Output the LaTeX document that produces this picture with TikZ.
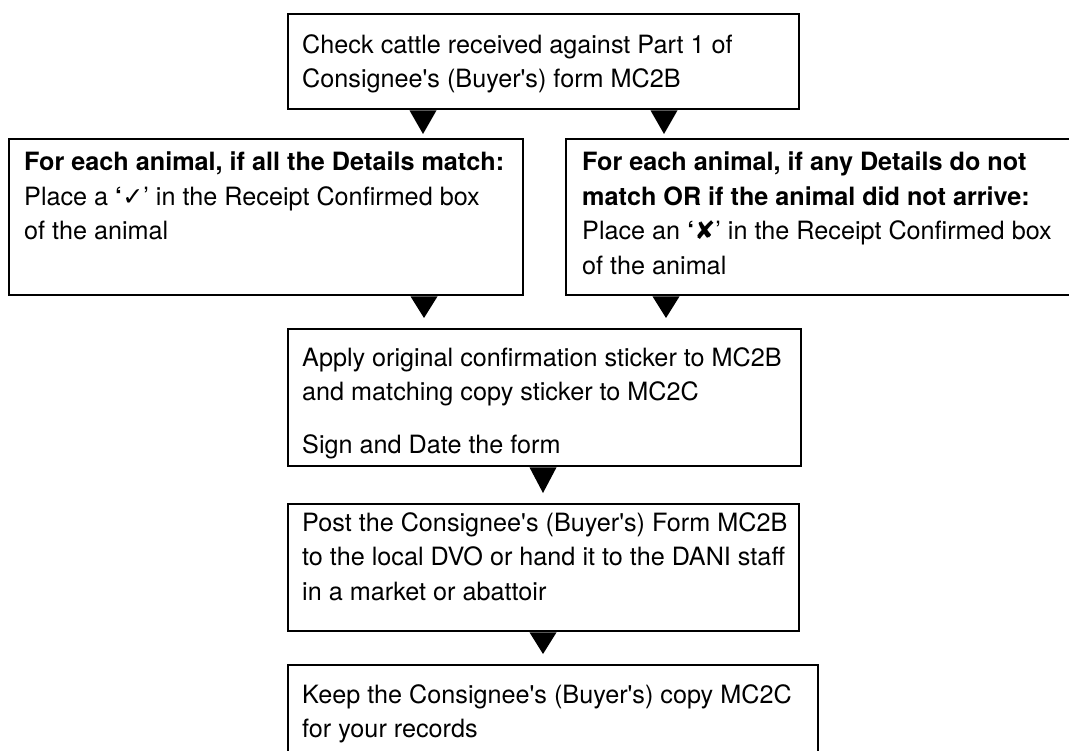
\documentclass[tikz,border=0pt]{standalone}
\usepackage{fontspec}
\setmainfont{TeX Gyre Heros}
\newfontfamily\symfont{DejaVu Sans}
\usetikzlibrary{calc}
\newcommand\ap{\textquotesingle}
\begin{document}
\begin{tikzpicture}[x=1pt,y=-1pt,
  box/.style={draw=black,line width=2.4pt,fill=white,anchor=north west,inner sep=0pt},
  txt/.style={anchor=north west,inner sep=0pt,align=left,font=\fontsize{25.2}{34.5}\selectfont},
  tri/.style={fill=black}]
\useasboundingbox[fill=white] (0,0) rectangle (1069,751);
% boxes
\node[box,minimum width=511pt,minimum height=95pt] (top) at (287,13) {};
\node[box,minimum width=514pt,minimum height=156pt] (left) at (8,138) {};
\node[box,minimum width=530pt,minimum height=156pt] (right) at (565,138) {};
\node[box,minimum width=513pt,minimum height=137pt] (mid) at (287,328) {};
\node[box,minimum width=511pt,minimum height=127pt] (post) at (287,503) {};
\node[box,minimum width=530pt,minimum height=110pt] (keep) at (287,664) {};
% texts
\node[txt] (ttop) at (302,34) {Check cattle received against Part 1 of\\Consignee\ap s (Buyer\ap s) form MC2B};
\node[txt] (tleft) at (24,152) {\textbf{For each animal, if all the Details match:}\\Place a \textbf{‘}{\symfont\bfseries ✓}’ in the Receipt Confirmed box\\of the animal};
\node[txt] (tright) at (582,152) {\textbf{For each animal, if any Details do not}\\\textbf{match OR if the animal did not arrive:}\\Place an \textbf{‘}{\symfont ✘}’ in the Receipt Confirmed box\\of the animal};
\node[txt] (tmid) at (302,347) {Apply original confirmation sticker to MC2B\\and matching copy sticker to MC2C\\[18.5pt]Sign and Date the form};
\node[txt] (tpost) at (302,512) {Post the Consignee\ap s (Buyer\ap s) Form MC2B\\to the local DVO or hand it to the DANI staff\\in a market or abattoir};
\node[txt] (tkeep) at (302,684) {Keep the Consignee\ap s (Buyer\ap s) copy MC2C\\for your records};
% connectors (solid triangles from box to box)
\fill[tri] ($(top.south -| 423,0)+(-13.5pt,0pt)$) -- ($(top.south -| 423,0)+(13.5pt,0pt)$) -- ($(left.north -| 423,0)+(0pt,4pt)$) -- cycle;
\fill[tri] ($(top.south -| 664,0)+(-13.5pt,0pt)$) -- ($(top.south -| 664,0)+(13.5pt,0pt)$) -- ($(right.north -| 664,0)+(0pt,4pt)$) -- cycle;
\fill[tri] ($(left.south -| 424,0)+(-13.5pt,0pt)$) -- ($(left.south -| 424,0)+(13.5pt,0pt)$) -- ($(mid.north -| 424,0)+(0pt,10pt)$) -- cycle;
\fill[tri] ($(right.south -| 666,0)+(-13.5pt,0pt)$) -- ($(right.south -| 666,0)+(13.5pt,0pt)$) -- ($(mid.north -| 666,0)+(0pt,10pt)$) -- cycle;
\fill[tri] ($(mid.south -| 543,0)+(-13.5pt,0pt)$) -- ($(mid.south -| 543,0)+(13.5pt,0pt)$) -- ($(post.north -| 543,0)+(0pt,10pt)$) -- cycle;
\fill[tri] ($(post.south -| 543,0)+(-13.5pt,0pt)$) -- ($(post.south -| 543,0)+(13.5pt,0pt)$) -- ($(keep.north -| 543,0)+(0pt,10pt)$) -- cycle;
\end{tikzpicture}
\end{document}
